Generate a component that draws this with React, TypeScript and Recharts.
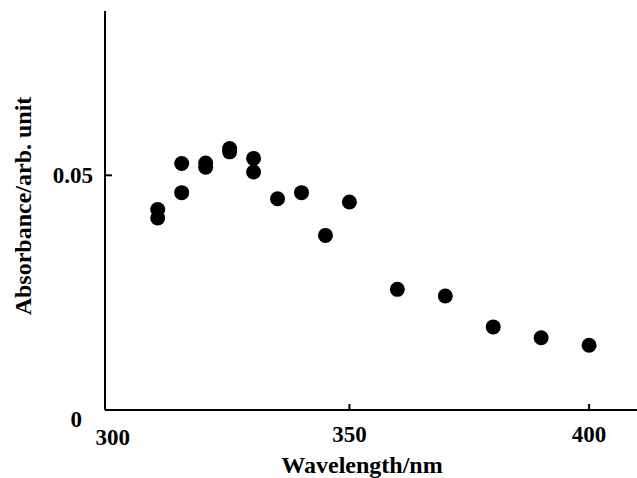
import React from 'react';
import { ScatterChart, Scatter, XAxis, YAxis, Label } from 'recharts';

// Absorbance spectrum, values
const wavelengths = [310, 310, 315, 315, 320, 320, 325, 325, 330, 330, 335, 340, 345, 350, 360, 370, 380, 390, 400];
const absorbance = [
    0.0427, 0.0409, 0.0525, 0.0463, 0.0526, 0.0517, 0.0557, 0.0550, 0.0536, 0.0507,
    0.0450, 0.0463, 0.0372, 0.0443, 0.0257, 0.0243, 0.0177, 0.0154, 0.0138
];
const xTicks = [300, 350, 400];
const yTicks = [0, 0.05];

const data = wavelengths.map((w, i) => ({ x: w, y: absorbance[i] }));

const FONT = '"Liberation Serif", "Times New Roman", serif';

const XTick = (props: any) => {
    const { x, y, payload } = props;
    const v = payload.value;
    return (
        <g>
            {v !== 300 && <line x1={x} x2={x} y1={y} y2={y - 6} stroke="#000" strokeWidth={2} />}
            <text
                x={x + (v === 300 ? 3 : 0)}
                y={y + (v === 300 ? 35 : 32)}
                textAnchor="middle"
                fontFamily={FONT}
                fontWeight="bold"
                fontSize={23}
                fill="#000"
            >
                {v}
            </text>
        </g>
    );
};

const YTick = (props: any) => {
    const { x, y, payload } = props;
    const v = payload.value;
    if (v === 0) {
        return (
            <text x={x - 23} y={y + 17} textAnchor="end" fontFamily={FONT} fontWeight="bold" fontSize={23} fill="#000">
                0
            </text>
        );
    }
    return (
        <g>
            <line x1={x} x2={x + 7} y1={y} y2={y} stroke="#000" strokeWidth={2} />
            <text x={x - 12} y={y + 8} textAnchor="end" fontFamily={FONT} fontWeight="bold" fontSize={23} fill="#000">
                {v}
            </text>
        </g>
    );
};

const Dot = (props: any) => <circle cx={props.cx} cy={props.cy} r={7.5} fill="#000" />;

export default function App() {
    return (
        <div style={{ position: 'absolute', left: 0, top: 0, width: 637, height: 478, background: '#fff' }}>
            <ScatterChart width={637} height={478} margin={{ top: 11, right: 0, left: 0, bottom: 0 }}>
                <XAxis
                    type="number"
                    dataKey="x"
                    domain={[299, 410]}
                    ticks={xTicks}
                    allowDataOverflow
                    height={68}
                    tickSize={0}
                    tickMargin={0}
                    tickLine={false}
                    tick={<XTick />}
                    axisLine={{ stroke: '#000', strokeWidth: 2 }}
                >
                    <Label
                        content={(p: any) => (
                            <text
                                x={p.viewBox.x + 257}
                                y={p.viewBox.y + 63}
                                textAnchor="middle"
                                fontFamily={FONT}
                                fontWeight="bold"
                                fontSize={24}
                                fill="#000"
                            >
                                Wavelength/nm
                            </text>
                        )}
                    />
                </XAxis>
                <YAxis
                    type="number"
                    dataKey="y"
                    domain={[0, 0.085]}
                    ticks={yTicks}
                    allowDataOverflow
                    width={105}
                    tickSize={0}
                    tickMargin={0}
                    tickLine={false}
                    tick={<YTick />}
                    axisLine={{ stroke: '#000', strokeWidth: 2 }}
                >
                    <Label
                        content={() => (
                            <text
                                x={31}
                                y={206}
                                transform="rotate(-90, 31, 206)"
                                textAnchor="middle"
                                fontFamily={FONT}
                                fontWeight="bold"
                                fontSize={24}
                                fill="#000"
                            >
                                Absorbance/arb. unit
                            </text>
                        )}
                    />
                </YAxis>
                <Scatter data={data} fill="#000" shape={<Dot />} isAnimationActive={false} />
            </ScatterChart>
        </div>
    );
}
